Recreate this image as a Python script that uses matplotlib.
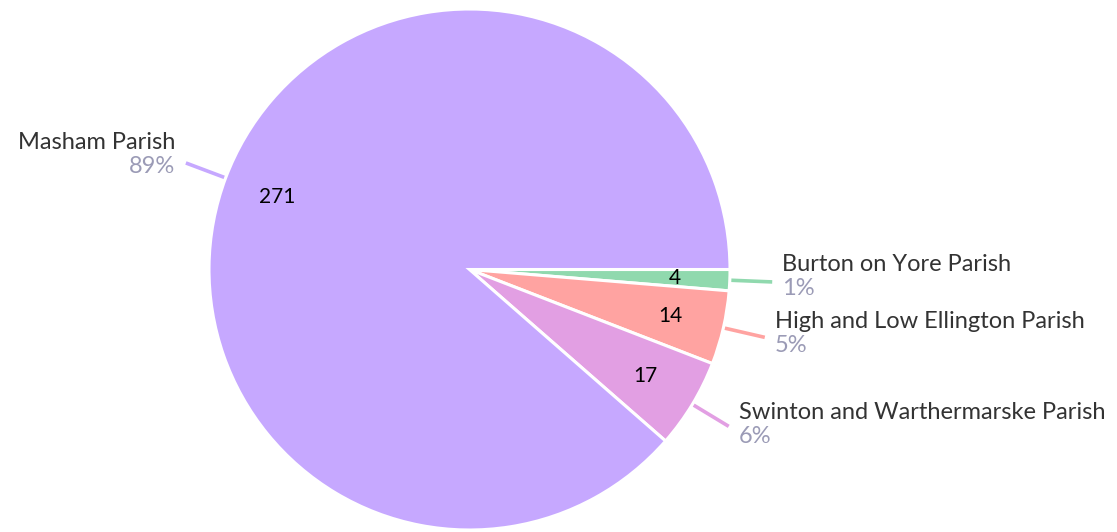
import numpy as np
import matplotlib
matplotlib.use("Agg")
import matplotlib.pyplot as plt

# Chart data
parishes = [
    "Burton on Yore Parish",
    "High and Low Ellington Parish",
    "Swinton and Warthermarske Parish",
    "Masham Parish",
]
counts = [4, 14, 17, 271]
colors = ["#90D9AE", "#FFA3A1", "#E29FE3", "#C6A8FF"]

W, H = 1117, 532
CX, CY, R = 469.5, H - 269.5, 260.5

plt.rcParams["font.family"] = ["Lato", "DejaVu Sans"]

fig = plt.figure(figsize=(W / 100, H / 100), dpi=100)
ax = fig.add_axes([0, 0, 1, 1])

wedges, _ = ax.pie(
    counts,
    colors=colors,
    startangle=0,
    counterclock=False,
    center=(CX, CY),
    radius=R,
    wedgeprops=dict(edgecolor="white", linewidth=2.2),
)

total = sum(counts)
for w, name, n, col in zip(wedges, parishes, counts, colors):
    mid = np.deg2rad((w.theta1 + w.theta2) / 2)
    c, s = np.cos(mid), np.sin(mid)

    # value inside the slice
    ax.text(CX + 0.79 * R * c, CY + 0.79 * R * s, str(n),
            ha="center", va="center", fontsize=15, color="black")

    # leader line
    x0, y0 = CX + 1.006 * R * c, CY + 1.006 * R * s
    x1, y1 = CX + 1.163 * R * c, CY + 1.163 * R * s
    ax.plot([x0, x1], [y0, y1], color=col, lw=2.6, solid_capstyle="butt")

    # name + percent
    right = c >= 0
    tx = x1 + 10 if right else x1 - 11
    ha = "left" if right else "right"
    yc = y1 + 6 + 8 * s
    ax.text(tx, yc + 12, name, ha=ha, va="center", fontsize=17, color="#333333")
    ax.text(tx, yc - 12.5, f"{round(100 * n / total)}%", ha=ha, va="center",
            fontsize=17, color="#9B9BB6")

ax.set_xlim(0, W)
ax.set_ylim(0, H)
ax.set_aspect("equal")
ax.axis("off")

fig.savefig("out.png", dpi=100)
